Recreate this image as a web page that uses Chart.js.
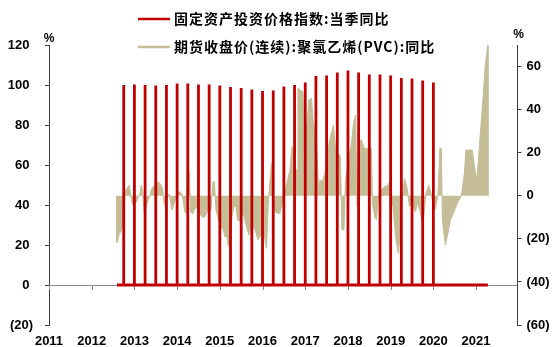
<!DOCTYPE html>
<html><head><meta charset="utf-8">
<script src="https://cdn.jsdelivr.net/npm/chart.js@4.4.1/dist/chart.umd.min.js"></script>
<style>html,body{margin:0;padding:0;background:#fff;}#c{display:block;}</style>
</head><body>
<canvas id="c" width="560" height="347"></canvas>
<script>
// ---- data ----
const seriesNames = ['固定资产投资价格指数:当季同比', '期货收盘价(连续):聚氯乙烯(PVC):同比'];
const unitLabel = '%';
const yearTicks = [2011, 2012, 2013, 2014, 2015, 2016, 2017, 2018, 2019, 2020, 2021];
const leftTicks = [-20, 0, 20, 40, 60, 80, 100, 120];
const rightTicks = [-60, -40, -20, 0, 20, 40, 60];

// quarterly fixed-asset investment price index (same quarter last year = 100)
const quarterEnds = ['2012-09','2012-12','2013-03','2013-06','2013-09','2013-12','2014-03','2014-06','2014-09','2014-12',
  '2015-03','2015-06','2015-09','2015-12','2016-03','2016-06','2016-09','2016-12','2017-03','2017-06',
  '2017-09','2017-12','2018-03','2018-06','2018-09','2018-12','2019-03','2019-06','2019-09','2019-12'];
const fixedAssetPriceIdx = [100.0,100.3,100.0,99.7,100.0,100.7,100.8,100.3,100.2,99.7,
  99.0,98.5,97.7,97.0,97.2,99.2,100.0,101.2,104.5,104.8,
  106.3,107.3,106.3,105.2,105.2,104.7,103.5,103.2,102.2,101.2];
// the daily series is zero between quarter ends, from its first to its last date
const fixedAssetSpan = [2012.592, 2021.276];

// PVC continuous futures close, YoY % (time in decimal years)
const pvcTime = [
 2012.568,2012.599,2012.645,2012.686,2012.716,2012.740,2012.763,2012.786,2012.819,2012.856,2012.880,2012.912,2012.943,2012.973,
 2013.014,2013.053,2013.091,2013.130,2013.161,2013.193,2013.224,2013.254,2013.287,2013.325,2013.365,2013.404,2013.442,2013.505,
 2013.558,2013.615,2013.662,2013.692,2013.723,2013.769,2013.816,2013.849,2013.879,2013.927,2013.973,2014.020,2014.067,2014.113,
 2014.144,2014.176,2014.206,2014.238,2014.284,2014.317,2014.364,2014.411,2014.457,2014.504,2014.552,2014.612,
 2014.652,2014.722,2014.792,2014.839,2014.874,2014.909,2014.968,2015.026,2015.073,2015.119,2015.167,2015.198,2015.237,2015.284,
 2015.330,2015.377,2015.412,2015.483,2015.541,2015.623,2015.681,2015.740,2015.822,2015.892,2015.986,2016.032,2016.092,2016.138,
 2016.208,2016.255,2016.337,2016.408,2016.466,2016.536,2016.606,
 2016.641,2016.689,2016.735,2016.770,
 2016.812,2016.829,2016.887,2016.945,2016.981,2017.040,2017.086,2017.145,2017.191,2017.261,2017.316,2017.344,2017.402,2017.461,
 2017.531,2017.590,2017.660,2017.707,2017.765,2017.823,2017.858,2017.906,2017.941,2018.011,2018.081,2018.128,2018.181,2018.215,
 2018.257,2018.315,2018.385,2018.490,2018.550,2018.573,2018.631,2018.666,2018.713,2018.783,2018.854,2018.936,
 2018.982,2019.052,2019.123,2019.177,2019.217,2019.263,2019.322,2019.380,2019.439,2019.509,2019.579,2019.626,2019.684,2019.755,
 2019.825,2019.895,2019.954,2020.036,2020.106,2020.153,2020.188,2020.211,2020.281,2020.341,2020.399,2020.469,2020.562,2020.657,
 2020.726,2020.762,2020.914,2020.961,2021.019,2021.089,2021.159,2021.217,2021.276,2021.300];
const pvcYoY = [
 -21.0,-21.8,-17.5,-16.7,-14.4,-9.8,-4.3,1.9,3.4,4.2,5.0,0.3,-3.6,-4.3,
 -3.6,-2.8,-0.5,1.1,5.0,1.9,-6.7,-7.9,-4.3,-2.0,0.3,3.4,4.2,5.4,
 6.5,5.4,3.4,-3.6,-4.8,-1.2,0.8,-2.8,-6.7,-3.6,-1.2,1.4,1.9,0.8,
 -2.8,-7.4,-8.2,10.7,11.6,-7.4,-8.5,-6.3,-5.4,-6.7,-9.0,-10.1,
 -9.7,-6.6,-6.6,6.5,6.5,-6.6,-11.2,-15,-15,-19,-19,-23.6,-20.5,-9.7,
 -5,-5,-11.2,-12,-7.4,-14.3,-18.2,-13.5,-15.5,-20.5,-17.4,-17.4,-24.4,-2,
 15,-6.6,-8.1,-8.1,-3.5,2.7,8.9,
 12,22.8,20,12,
 12,49.9,49,48.3,32,33.6,44.5,45.3,33.6,27.5,1.1,7.3,6.6,10.4,
 22,27.4,32.9,22.8,19.7,18.2,-15.8,-15.8,7,16.6,23.6,33.6,37.5,-5,
 25,26,22,22,22,-3.5,-10,-11,0,2.7,4.2,5,
 6.5,-5,-20,-26.7,-19,-2,8,4.2,-5,-3.5,-7.4,-3.5,-6.6,-13.6,
 1.1,5,0,-6.6,0,22,22,-11.3,-22.8,-17.4,-11.3,-8.1,-3.5,0,
 10.4,21.2,21.2,13.5,7.3,25.9,44.5,60.7,71,72];

// ---- build series points ----
function monthToYear(s){ const p = s.split('-').map(Number); return p[0] + p[1] / 12; }
const redPts = [{x: fixedAssetSpan[0], y: 0}];
quarterEnds.forEach((q, i) => {
  const t = monthToYear(q);
  redPts.push({x: t, y: 0}, {x: t, y: fixedAssetPriceIdx[i]}, {x: t, y: 0});
});
redPts.push({x: fixedAssetSpan[1], y: 0});
const pvcPts = pvcTime.map((t, i) => ({x: t, y: pvcYoY[i]}));

const RED = '#C00000', TAN = '#C4BD97', AXIS = '#404040', ZERO = '#8C8C8C';
const tickFont = {family: "'Liberation Sans', Arial, sans-serif", size: 13, weight: 'bold'};
const paren = v => v < 0 ? '(' + (-v) + ')' : String(v);

const extras = {
  id: 'extras',
  beforeDatasetsDraw(chart) {
    const ctx = chart.ctx, xs = chart.scales.x, y0 = chart.scales.y.getPixelForValue(0);
    ctx.save();
    ctx.strokeStyle = ZERO; ctx.lineWidth = 1;
    yearTicks.forEach(t => {
      const px = Math.round(xs.getPixelForValue(t)) + 0.5;
      ctx.beginPath(); ctx.moveTo(px, y0); ctx.lineTo(px, y0 + 5); ctx.stroke();
    });
    ctx.restore();
  },
  afterDraw(chart) {
    const ctx = chart.ctx, ca = chart.chartArea;
    ctx.save();
    ctx.fillStyle = '#000';
    ctx.font = "bold 12px 'Liberation Sans', Arial, sans-serif";
    ctx.textAlign = 'center'; ctx.textBaseline = 'middle';
    ctx.fillText(unitLabel, ca.left, 39);
    ctx.fillText(unitLabel, ca.right + 1, 35);
    chart.data.datasets.forEach((ds, i) => {
      const y = 19 + i * 28;
      ctx.strokeStyle = ds.legendColor; ctx.lineWidth = 2.5;
      ctx.beginPath(); ctx.moveTo(138, y); ctx.lineTo(170, y); ctx.stroke();
      ctx.fillStyle = '#000';
      ctx.font = "bold 14px 'Noto Sans CJK SC', sans-serif";
      try { ctx.letterSpacing = '1px'; } catch (e) {}
      ctx.textAlign = 'left'; ctx.textBaseline = 'middle';
      ctx.fillText(ds.label, 174, y);
      try { ctx.letterSpacing = '0px'; } catch (e) {}
    });
    ctx.restore();
  }
};

new Chart(document.getElementById('c'), {
  type: 'line',
  data: {
    datasets: [
      {label: seriesNames[0], data: redPts, yAxisID: 'y', borderColor: RED, legendColor: RED,
       borderWidth: 2.8, pointRadius: 0, tension: 0, fill: false, order: 0,
       borderJoinStyle: 'bevel', borderCapStyle: 'butt'},
      {label: seriesNames[1], data: pvcPts, yAxisID: 'y2', borderColor: TAN, backgroundColor: TAN, legendColor: TAN,
       borderWidth: 1, pointRadius: 0, tension: 0, fill: 'origin', order: 1}
    ]
  },
  options: {
    responsive: false, animation: false, devicePixelRatio: 1,
    layout: {padding: {top: 45, left: 0, right: 0, bottom: 0}},
    plugins: {legend: {display: false}, tooltip: {enabled: false}},
    scales: {
      x: {type: 'linear', position: 'bottom', min: 2011, max: 2021.97,
        afterBuildTicks: s => { s.ticks = yearTicks.map(v => ({value: v})); },
        afterFit: s => { s.height = 22; },
        grid: {display: false, drawTicks: false}, border: {display: false},
        ticks: {font: tickFont, color: '#000', padding: 9, maxRotation: 0, autoSkip: false,
          callback: v => String(v)}},
      y: {type: 'linear', position: 'left', min: -20, max: 120,
        afterBuildTicks: s => { s.ticks = leftTicks.map(v => ({value: v})); },
        afterFit: s => { s.width = 49; },
        grid: {drawOnChartArea: true, drawTicks: true, tickLength: 4, tickColor: AXIS,
          color: c => (c.tick && c.tick.value === 0) ? ZERO : 'rgba(0,0,0,0)'},
        border: {display: true, color: AXIS, width: 1},
        ticks: {font: tickFont, color: '#000', padding: 12,
          callback: v => v < 0 ? paren(v) : v + ' '}},
      y2: {type: 'linear', position: 'right', min: -60, max: 70,
        afterBuildTicks: s => { s.ticks = rightTicks.map(v => ({value: v})); },
        afterFit: s => { s.width = 42.5; },
        grid: {drawOnChartArea: false, drawTicks: true, tickLength: 4, tickColor: AXIS},
        border: {display: true, color: AXIS, width: 1},
        ticks: {font: tickFont, color: '#000', padding: 5, callback: v => paren(v)}}
    }
  },
  plugins: [extras]
});
</script>
</body></html>
